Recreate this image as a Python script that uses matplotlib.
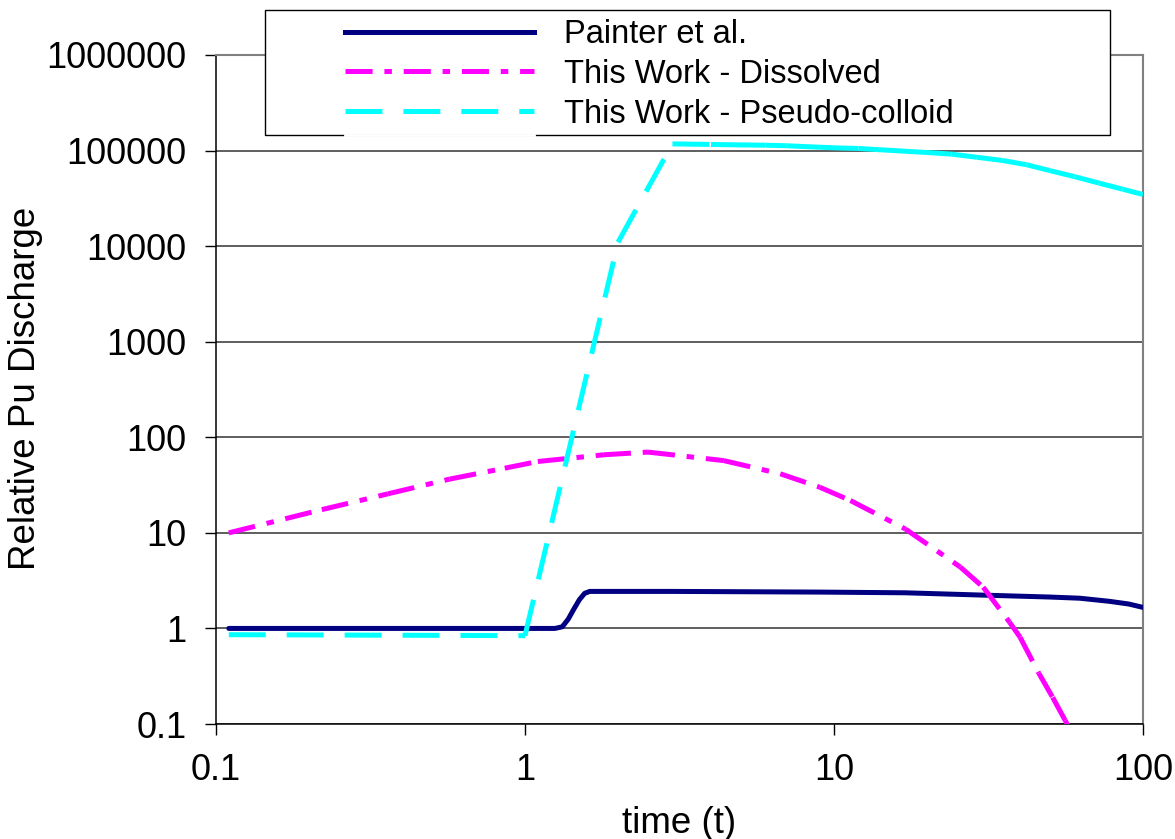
import matplotlib
matplotlib.use("Agg")
import matplotlib.pyplot as plt
from matplotlib.lines import Line2D
from matplotlib.patches import Rectangle
from matplotlib.ticker import FixedLocator, FixedFormatter, NullLocator

plt.rcParams['font.family'] = ['Liberation Sans', 'DejaVu Sans']
plt.rcParams['lines.scale_dashes'] = False

# values
painter_t = [0.11, 1.0, 1.25, 1.32, 1.38, 1.44, 1.5, 1.56, 1.62, 3, 9, 17, 32, 50, 62.5, 78, 90, 100]
painter_q = [1.0, 1.0, 1.0, 1.04, 1.25, 1.6, 2.0, 2.33, 2.44, 2.44, 2.40, 2.36, 2.22, 2.13, 2.07, 1.92, 1.80, 1.66]

dissolved_t = [0.11, 0.22, 0.36, 0.57, 0.86, 1.1, 1.8, 2.5, 4.4, 6.7, 9, 11.3, 17, 25.6, 30.4, 37, 40, 46, 51, 56, 60]
dissolved_q = [10, 17.5, 25.6, 36.5, 47.5, 55.8, 65.6, 70, 57, 41.5, 30, 21.8, 11, 4.4, 2.7, 1.16, 0.81, 0.34, 0.19, 0.109, 0.07]

colloid_t = [0.11, 1, 2, 3, 4, 5, 6, 7, 8, 9, 10, 12, 14, 17, 20, 24, 29, 35, 42, 50, 60, 72, 86, 100]
colloid_q = [0.86, 0.84, 11000, 117500, 115900, 114600, 113800, 112400, 110200, 108400, 106900, 105200,
             102100, 98400, 95500, 91800, 85100, 78900, 71100, 61700, 53400, 45700, 39400, 34700]

series_labels = ['Painter et al.', 'This Work - Dissolved', 'This Work - Pseudo-colloid']
x_ticks = [0.1, 1, 10, 100]
x_tick_labels = ['0.1', '1', '10', '100']
y_ticks = [0.1, 1, 10, 100, 1000, 10000, 100000, 1000000]
y_tick_labels = ['0.1', '1', '10', '100', '1000', '10000', '100000', '1000000']

W, H = 1175, 839
fig = plt.figure(figsize=(W / 100, H / 100), dpi=100)
ax = fig.add_axes([216 / W, 115 / H, 927 / W, 669 / H])
ax.set_xscale('log')
ax.set_yscale('log')
ax.set_xlim(0.1, 100)
ax.set_ylim(0.1, 1e6)

lw = 3.6
navy, magenta, cyan = '#000080', '#ff00ff', '#00ffff'
dash_dot = (0, (19.5, 8.5, 5.4, 8.5))
dashed = (0, (26.6, 15.1))

ax.plot(painter_t, painter_q, color=navy, lw=lw, solid_capstyle='round',
        solid_joinstyle='round', zorder=3)

# excel starts the dash pattern again at every point, so draw segment by segment
for i in range(len(dissolved_t) - 1):
    ax.plot(dissolved_t[i:i + 2], dissolved_q[i:i + 2], color=magenta, lw=lw,
            linestyle=dash_dot, dash_capstyle='butt', zorder=4)
for i in range(len(colloid_t) - 1):
    ax.plot(colloid_t[i:i + 2], colloid_q[i:i + 2], color=cyan, lw=lw,
            linestyle=dashed, dash_capstyle='butt', zorder=5)

ax.xaxis.set_major_locator(FixedLocator(x_ticks))
ax.xaxis.set_major_formatter(FixedFormatter(x_tick_labels))
ax.yaxis.set_major_locator(FixedLocator(y_ticks))
ax.yaxis.set_major_formatter(FixedFormatter(y_tick_labels))
ax.xaxis.set_minor_locator(NullLocator())
ax.yaxis.set_minor_locator(NullLocator())
ax.tick_params(direction='out', length=8, width=1, pad=13, labelsize=26, colors='black')

ax.yaxis.grid(True, color='#333333', lw=1.1)
ax.set_axisbelow(True)
for s in ['top', 'right']:
    ax.spines[s].set_color('#808080')
    ax.spines[s].set_linewidth(1.5)
for s in ['left', 'bottom']:
    ax.spines[s].set_color('black')
    ax.spines[s].set_linewidth(1.1)

ax.set_xlabel('time (t)', fontsize=26.5)
ax.xaxis.set_label_coords(0.5, -0.123)
fig.text(26 / W, 1 - 388 / H, 'Relative Pu Discharge', fontsize=26.5, rotation=90,
         ha='center', va='center')

# legend box
fig.add_artist(Rectangle((265 / W, 1 - 135 / H), 845 / W, 125 / H, transform=fig.transFigure,
                         fc='white', ec='black', lw=1, zorder=4))
fig.add_artist(Line2D([345 / W, 534 / W], [1 - 135 / H, 1 - 135 / H], transform=fig.transFigure,
                      color='white', lw=2, zorder=4.5))
handles = [Line2D([], [], color=navy, lw=lw),
           Line2D([], [], color=magenta, lw=lw, linestyle=dash_dot, dash_capstyle='butt'),
           Line2D([], [], color=cyan, lw=lw, linestyle=dashed, dash_capstyle='butt')]
fig.legend(handles, series_labels, loc='upper left', bbox_to_anchor=(345 / W, 1 - 19 / H),
           frameon=False, borderpad=0, borderaxespad=0, handlelength=5.8,
           handletextpad=0.9, labelspacing=0.27, fontsize=23.5)

fig.savefig('out.png', dpi=100)
